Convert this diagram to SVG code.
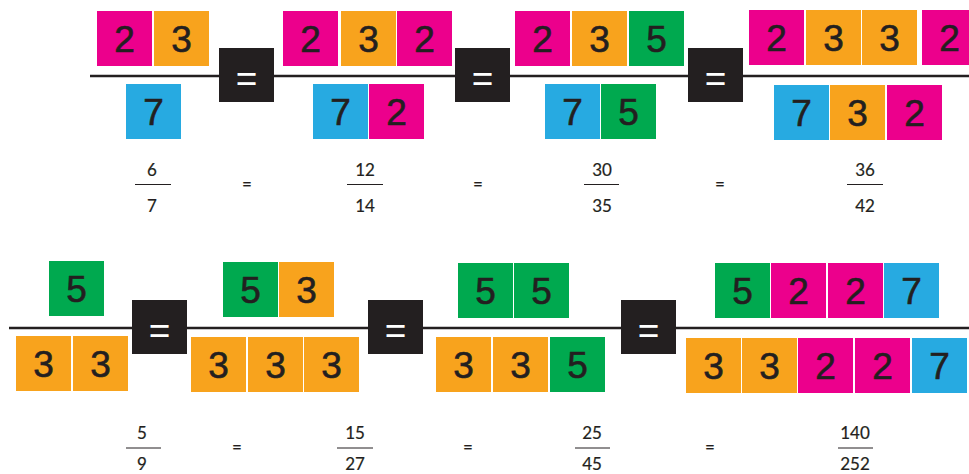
<svg xmlns="http://www.w3.org/2000/svg" width="969" height="474" viewBox="0 0 969 474">
<style>
.p{fill:#ec008c}.o{fill:#f8a31d}.b{fill:#27aae1}.g{fill:#00a94f}.k{fill:#231f20}
.n{font-family:"Liberation Sans",Arial,sans-serif;font-size:37px;fill:#231f20;stroke:#231f20;stroke-width:0.6;text-anchor:middle}
.e{font-family:"Liberation Sans",Arial,sans-serif;font-size:37px;fill:#ffffff;text-anchor:middle}
.f{font-family:Lato,"Liberation Sans",sans-serif;font-size:17px;fill:#231f20;stroke:#231f20;stroke-width:0.2;text-anchor:middle}
.rule{stroke:#231f20;stroke-width:2.5;fill:none}
.bar{stroke:#231f20;stroke-width:1;fill:none}
</style>
<g id="connectors">
<line class="rule" x1="90" y1="76" x2="969" y2="76"/>
<line class="rule" x1="9" y1="328" x2="969" y2="328"/>
</g>
<!-- top row -->
<g id="t1">
<rect class="p" x="97" y="11" width="55" height="55"/><text class="n" x="124.5" y="52">2</text>
<rect class="o" x="154" y="11" width="55" height="55"/><text class="n" x="181.5" y="52">3</text>
<rect class="b" x="126" y="84" width="55" height="55"/><text class="n" x="153.5" y="125">7</text>
</g>
<g id="teq1"><rect class="k" x="219" y="48" width="55" height="54"/><text class="e" x="246.5" y="91">=</text></g>
<g id="t2">
<rect class="p" x="283" y="11" width="55" height="55"/><text class="n" x="310.5" y="52">2</text>
<rect class="o" x="341" y="11" width="55" height="55"/><text class="n" x="368.5" y="52">3</text>
<rect class="p" x="397" y="11" width="55" height="55"/><text class="n" x="424.5" y="52">2</text>
<rect class="b" x="313" y="84" width="55" height="55"/><text class="n" x="340.5" y="125">7</text>
<rect class="p" x="369" y="84" width="55" height="55"/><text class="n" x="396.5" y="125">2</text>
</g>
<g id="teq2"><rect class="k" x="455" y="48" width="55" height="54"/><text class="e" x="482.5" y="91">=</text></g>
<g id="t3">
<rect class="p" x="515" y="11" width="55" height="55"/><text class="n" x="542.5" y="52">2</text>
<rect class="o" x="572" y="11" width="55" height="55"/><text class="n" x="599.5" y="52">3</text>
<rect class="g" x="629" y="11" width="55" height="55"/><text class="n" x="656.5" y="52">5</text>
<rect class="b" x="545" y="84" width="55" height="55"/><text class="n" x="572.5" y="125">7</text>
<rect class="g" x="601" y="84" width="55" height="55"/><text class="n" x="628.5" y="125">5</text>
</g>
<g id="teq3"><rect class="k" x="688" y="48" width="55" height="54"/><text class="e" x="715.5" y="91">=</text></g>
<g id="t4">
<rect class="p" x="749" y="10" width="55" height="55"/><text class="n" x="776.5" y="51">2</text>
<rect class="o" x="806" y="10" width="55" height="55"/><text class="n" x="833.5" y="51">3</text>
<rect class="o" x="862" y="10" width="55" height="55"/><text class="n" x="889.5" y="51">3</text>
<rect class="p" x="922" y="10" width="55" height="55"/><text class="n" x="949.5" y="51">2</text>
<rect class="b" x="774" y="85" width="55" height="55"/><text class="n" x="801.5" y="126">7</text>
<rect class="o" x="830" y="85" width="55" height="55"/><text class="n" x="857.5" y="126">3</text>
<rect class="p" x="887" y="85" width="55" height="55"/><text class="n" x="914.5" y="126">2</text>
</g>
<!-- bottom row -->
<g id="b1">
<rect class="g" x="49" y="261" width="55" height="55"/><text class="n" x="76.5" y="302">5</text>
<rect class="o" x="16" y="336" width="55" height="55"/><text class="n" x="43.5" y="377">3</text>
<rect class="o" x="73" y="336" width="55" height="55"/><text class="n" x="100.5" y="377">3</text>
</g>
<g id="beq1"><rect class="k" x="132" y="300" width="55" height="54"/><text class="e" x="159.5" y="343">=</text></g>
<g id="b2">
<rect class="g" x="223" y="262" width="55" height="55"/><text class="n" x="250.5" y="303">5</text>
<rect class="o" x="279" y="262" width="55" height="55"/><text class="n" x="306.5" y="303">3</text>
<rect class="o" x="191" y="337" width="55" height="55"/><text class="n" x="218.5" y="378">3</text>
<rect class="o" x="248" y="337" width="55" height="55"/><text class="n" x="275.5" y="378">3</text>
<rect class="o" x="304" y="337" width="55" height="55"/><text class="n" x="331.5" y="378">3</text>
</g>
<g id="beq2"><rect class="k" x="368" y="300" width="55" height="54"/><text class="e" x="395.5" y="343">=</text></g>
<g id="b3">
<rect class="g" x="458" y="263" width="55" height="55"/><text class="n" x="485.5" y="304">5</text>
<rect class="g" x="514" y="263" width="55" height="55"/><text class="n" x="541.5" y="304">5</text>
<rect class="o" x="436" y="337" width="55" height="55"/><text class="n" x="463.5" y="378">3</text>
<rect class="o" x="493" y="337" width="55" height="55"/><text class="n" x="520.5" y="378">3</text>
<rect class="g" x="550" y="337" width="55" height="55"/><text class="n" x="577.5" y="378">5</text>
</g>
<g id="beq3"><rect class="k" x="621" y="300" width="55" height="54"/><text class="e" x="648.5" y="343">=</text></g>
<g id="b4">
<rect class="g" x="715" y="263" width="55" height="55"/><text class="n" x="742.5" y="304">5</text>
<rect class="p" x="771" y="263" width="55" height="55"/><text class="n" x="798.5" y="304">2</text>
<rect class="p" x="828" y="263" width="55" height="55"/><text class="n" x="855.5" y="304">2</text>
<rect class="b" x="884" y="263" width="55" height="55"/><text class="n" x="911.5" y="304">7</text>
<rect class="o" x="686" y="338" width="55" height="55"/><text class="n" x="713.5" y="379">3</text>
<rect class="o" x="742" y="338" width="55" height="55"/><text class="n" x="769.5" y="379">3</text>
<rect class="p" x="798" y="338" width="55" height="55"/><text class="n" x="825.5" y="379">2</text>
<rect class="p" x="855" y="338" width="55" height="55"/><text class="n" x="882.5" y="379">2</text>
<rect class="b" x="912" y="338" width="55" height="55"/><text class="n" x="939.5" y="379">7</text>
</g>
<!-- numeric fractions top -->
<g id="ft1"><text class="f" x="152" y="176">6</text><line class="bar" x1="135" y1="184.5" x2="171" y2="184.5"/><text class="f" x="152" y="212">7</text></g>
<g id="fte1"><text class="f" x="247" y="190">=</text></g>
<g id="ft2"><text class="f" x="365" y="176">12</text><line class="bar" x1="347" y1="184.5" x2="383" y2="184.5"/><text class="f" x="365" y="212">14</text></g>
<g id="fte2"><text class="f" x="478" y="190">=</text></g>
<g id="ft3"><text class="f" x="602" y="176">30</text><line class="bar" x1="584" y1="184.5" x2="619" y2="184.5"/><text class="f" x="602" y="212">35</text></g>
<g id="fte3"><text class="f" x="720" y="190">=</text></g>
<g id="ft4"><text class="f" x="865" y="176">36</text><line class="bar" x1="847" y1="184.5" x2="883" y2="184.5"/><text class="f" x="865" y="212">42</text></g>
<!-- numeric fractions bottom -->
<g id="fb1"><text class="f" x="142" y="439">5</text><line class="bar" x1="126" y1="448" x2="161" y2="448"/><text class="f" x="142" y="470">9</text></g>
<g id="fbe1"><text class="f" x="237" y="453">=</text></g>
<g id="fb2"><text class="f" x="355" y="439">15</text><line class="bar" x1="337" y1="448" x2="373" y2="448"/><text class="f" x="355" y="470">27</text></g>
<g id="fbe2"><text class="f" x="468" y="453">=</text></g>
<g id="fb3"><text class="f" x="592" y="439">25</text><line class="bar" x1="575" y1="448" x2="610" y2="448"/><text class="f" x="592" y="470">45</text></g>
<g id="fbe3"><text class="f" x="710" y="453">=</text></g>
<g id="fb4"><text class="f" x="855" y="439">140</text><line class="bar" x1="838" y1="448" x2="873" y2="448"/><text class="f" x="855" y="470">252</text></g>
</svg>
